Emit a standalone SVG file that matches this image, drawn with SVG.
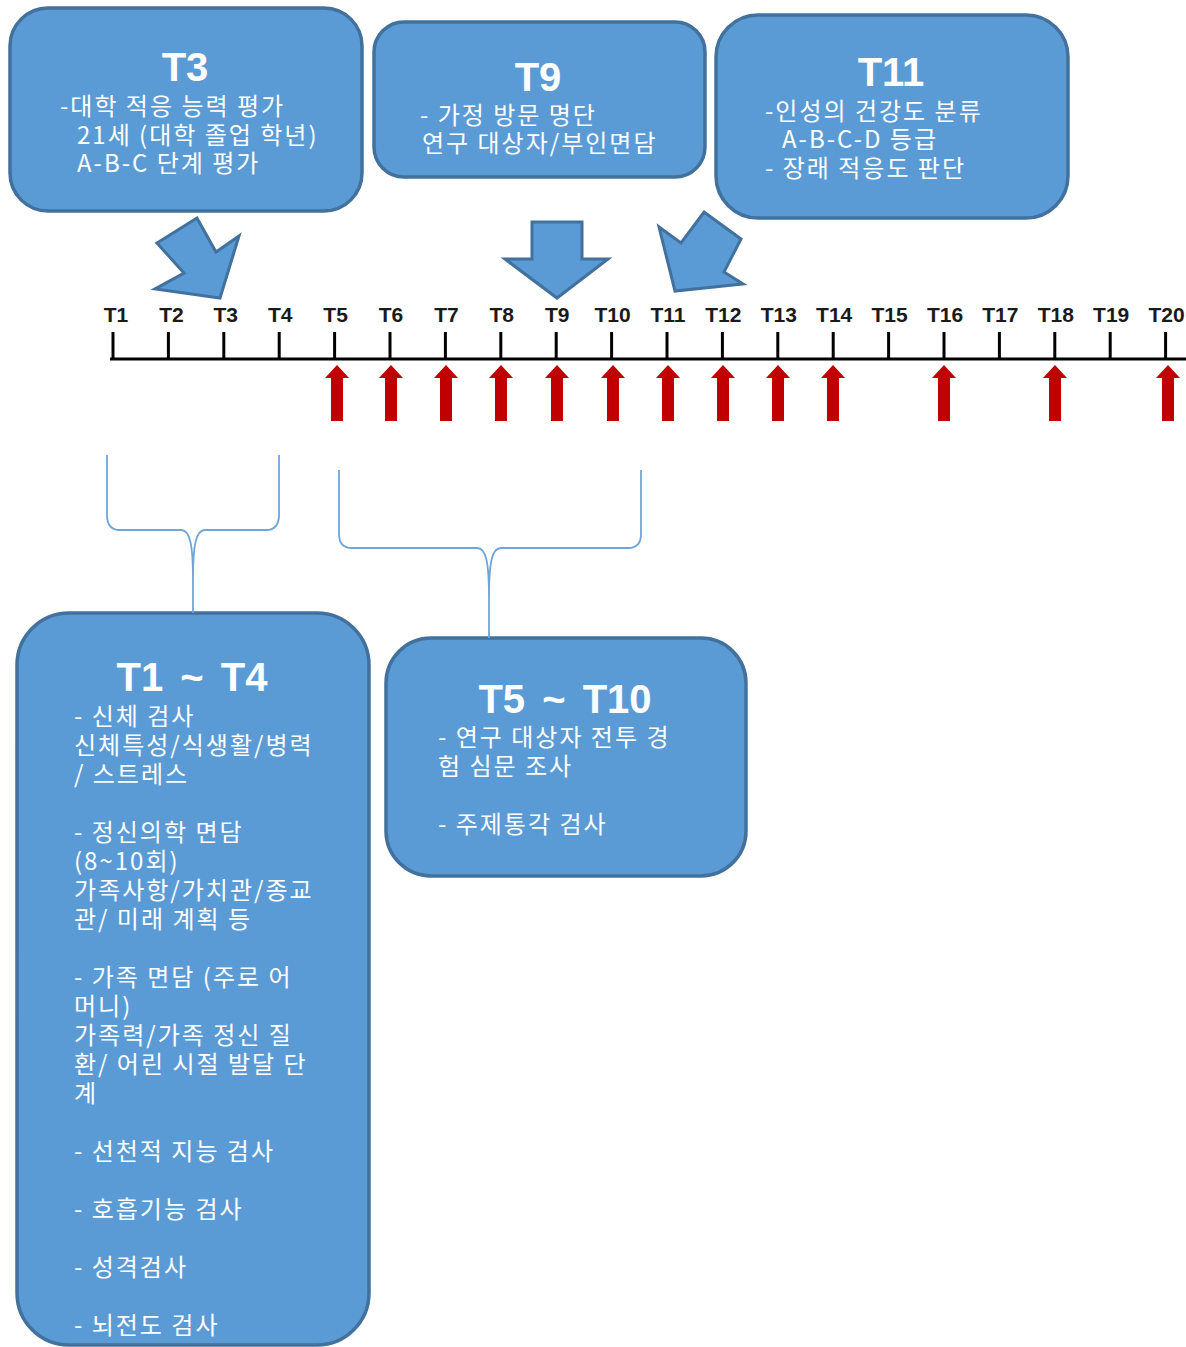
<svg xmlns="http://www.w3.org/2000/svg" width="1186" height="1347" viewBox="0 0 1186 1347">
<style>
.box{fill:#5B9BD5;stroke:#41719C;stroke-width:3.5}
.ttl{font-family:"Liberation Sans",Arial,sans-serif;font-weight:bold;font-size:40px;fill:#fff;text-anchor:middle}
.txt{font-family:"Noto Sans CJK KR","Noto Sans",sans-serif;font-size:24px;letter-spacing:2px;fill:#fff}
.lbl{font-family:"Liberation Sans",Arial,sans-serif;font-weight:bold;font-size:21px;fill:#1a1a1a;text-anchor:middle}
.blk{fill:#5B9BD5;stroke:#41719C;stroke-width:3;stroke-linejoin:miter}
.brace{fill:none;stroke:#6FA5DA;stroke-width:1.8}
.tick{stroke:#000;stroke-width:3}
</style>
<defs>
<polygon id="red" points="0,365 12,378 6,378 6,421 -6,421 -6,378 -12,378" fill="#C00000"/>
</defs>

<g id="node-t3">
<rect class="box" x="10" y="8" width="352" height="203" rx="38"/>
<text class="ttl" x="185" y="81">T3</text>
<text class="txt" x="60" y="115">-대학 적응 능력 평가</text>
<text class="txt" x="77" y="144">21세 (대학 졸업 학년)</text>
<text class="txt" x="77" y="172">A-B-C 단계 평가</text>
</g>

<g id="node-t9">
<rect class="box" x="374" y="22" width="331" height="155" rx="30"/>
<text class="ttl" x="538" y="91">T9</text>
<text class="txt" x="420" y="124">- 가정 방문 명단</text>
<text class="txt" x="422" y="152">연구 대상자/부인면담</text>
</g>

<g id="node-t11">
<rect class="box" x="716" y="15" width="352" height="203" rx="42"/>
<text class="ttl" x="891" y="86">T11</text>
<text class="txt" x="765" y="120">-인성의 건강도 분류</text>
<text class="txt" x="782" y="148">A-B-C-D 등급</text>
<text class="txt" x="765" y="177">- 장래 적응도 판단</text>
</g>

<g id="node-t1-t4">
<rect class="box" x="17" y="613" width="352" height="732" rx="52"/>
<text class="ttl" x="192" y="691" word-spacing="6">T1 ~ T4</text>
<text class="txt" x="74" y="725">- 신체 검사</text>
<text class="txt" x="74" y="754">신체특성/식생활/병력</text>
<text class="txt" x="74" y="783">/ 스트레스</text>
<text class="txt" x="74" y="841">- 정신의학 면담</text>
<text class="txt" x="74" y="870">(8~10회)</text>
<text class="txt" x="74" y="899">가족사항/가치관/종교</text>
<text class="txt" x="74" y="928">관/ 미래 계획 등</text>
<text class="txt" x="74" y="986">- 가족 면담 (주로 어</text>
<text class="txt" x="74" y="1015">머니)</text>
<text class="txt" x="74" y="1044">가족력/가족 정신 질</text>
<text class="txt" x="74" y="1073">환/ 어린 시절 발달 단</text>
<text class="txt" x="74" y="1102">계</text>
<text class="txt" x="74" y="1160">- 선천적 지능 검사</text>
<text class="txt" x="74" y="1218">- 호흡기능 검사</text>
<text class="txt" x="74" y="1276">- 성격검사</text>
<text class="txt" x="74" y="1334">- 뇌전도 검사</text>
</g>

<g id="node-t5-t10">
<rect class="box" x="386" y="638" width="360" height="238" rx="45"/>
<text class="ttl" x="565" y="713" word-spacing="6">T5 ~ T10</text>
<text class="txt" x="438" y="746">- 연구 대상자 전투 경</text>
<text class="txt" x="438" y="775">험 심문 조사</text>
<text class="txt" x="438" y="833">- 주제통각 검사</text>
</g>

<g id="timeline">
<line class="tick" x1="110" y1="359" x2="1186" y2="359"/>
<g class="tick">
<line x1="113" y1="332" x2="113" y2="359"/>
<line x1="168.4" y1="332" x2="168.4" y2="359"/>
<line x1="223.8" y1="332" x2="223.8" y2="359"/>
<line x1="279.2" y1="332" x2="279.2" y2="359"/>
<line x1="334.6" y1="332" x2="334.6" y2="359"/>
<line x1="390" y1="332" x2="390" y2="359"/>
<line x1="445.4" y1="332" x2="445.4" y2="359"/>
<line x1="500.8" y1="332" x2="500.8" y2="359"/>
<line x1="556.2" y1="332" x2="556.2" y2="359"/>
<line x1="611.6" y1="332" x2="611.6" y2="359"/>
<line x1="667" y1="332" x2="667" y2="359"/>
<line x1="722.4" y1="332" x2="722.4" y2="359"/>
<line x1="777.8" y1="332" x2="777.8" y2="359"/>
<line x1="833.2" y1="332" x2="833.2" y2="359"/>
<line x1="888.6" y1="332" x2="888.6" y2="359"/>
<line x1="944" y1="332" x2="944" y2="359"/>
<line x1="999.4" y1="332" x2="999.4" y2="359"/>
<line x1="1054.8" y1="332" x2="1054.8" y2="359"/>
<line x1="1110.2" y1="332" x2="1110.2" y2="359"/>
<line x1="1165.6" y1="332" x2="1165.6" y2="359"/>
</g>
<text class="lbl" x="116" y="322">T1</text>
<text class="lbl" x="171.4" y="322">T2</text>
<text class="lbl" x="225.8" y="322">T3</text>
<text class="lbl" x="280.2" y="322">T4</text>
<text class="lbl" x="335.6" y="322">T5</text>
<text class="lbl" x="391" y="322">T6</text>
<text class="lbl" x="446.4" y="322">T7</text>
<text class="lbl" x="501.8" y="322">T8</text>
<text class="lbl" x="557.2" y="322">T9</text>
<text class="lbl" x="612.6" y="322">T10</text>
<text class="lbl" x="668" y="322">T11</text>
<text class="lbl" x="723.4" y="322">T12</text>
<text class="lbl" x="778.8" y="322">T13</text>
<text class="lbl" x="834.2" y="322">T14</text>
<text class="lbl" x="889.6" y="322">T15</text>
<text class="lbl" x="945" y="322">T16</text>
<text class="lbl" x="1000.4" y="322">T17</text>
<text class="lbl" x="1055.8" y="322">T18</text>
<text class="lbl" x="1111.2" y="322">T19</text>
<text class="lbl" x="1166.6" y="322">T20</text>
</g>

<g id="connectors">
<polygon class="blk" points="197,218 157,243 184,273 155,289 220,298 239,236 216,252"/>
<polygon class="blk" points="532,222 582,222 582,259 608,259 557,298 505,259 532,259"/>
<polygon class="blk" points="704,212 741,239 724,272 743,284 675,291 659,227 681,243"/>
<use href="#red" x="337"/>
<use href="#red" x="391"/>
<use href="#red" x="446"/>
<use href="#red" x="501"/>
<use href="#red" x="557"/>
<use href="#red" x="613"/>
<use href="#red" x="668"/>
<use href="#red" x="723"/>
<use href="#red" x="778"/>
<use href="#red" x="833"/>
<use href="#red" x="944"/>
<use href="#red" x="1055"/>
<use href="#red" x="1168"/>
<path class="brace" d="M107,455 L107,515 Q107,530 120,530 L181,530 C190,530 193,545 193,578 L193,613 M279,455 L279,515 Q279,530 266,530 L205,530 C196,530 193,545 193,578"/>
<path class="brace" d="M339,470 L339,534 Q339,548 352,548 L477,548 C486,548 489,562 489,598 L489,638 M641,470 L641,534 Q641,548 628,548 L501,548 C492,548 489,562 489,598"/>
</g>
</svg>
